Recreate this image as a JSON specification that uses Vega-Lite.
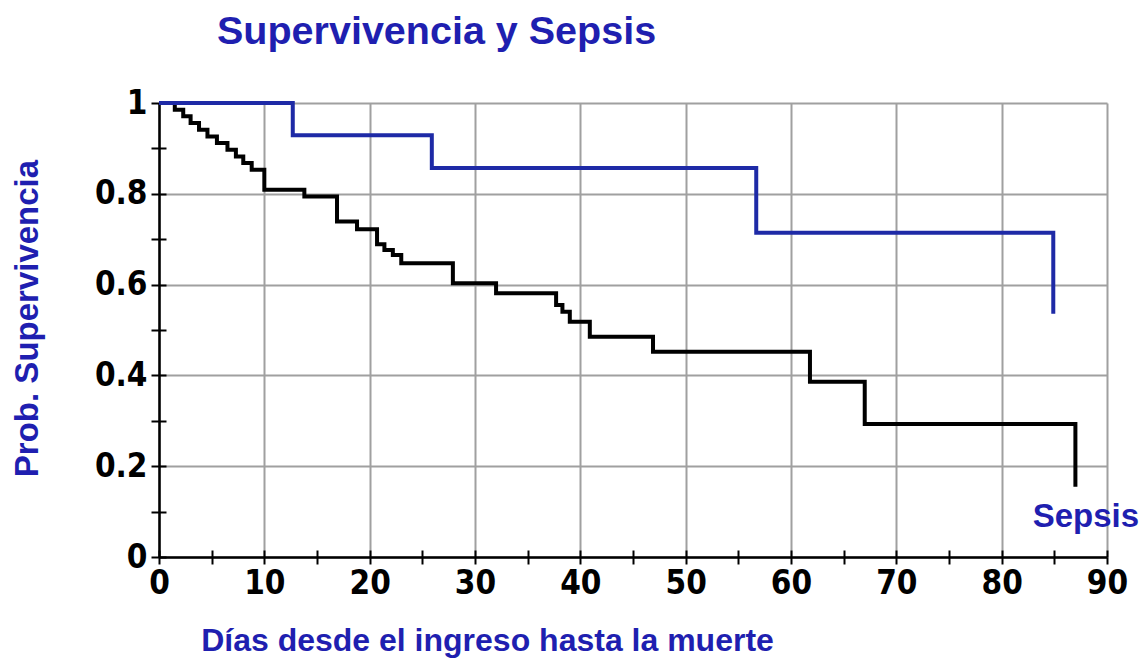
{
  "$schema": "https://vega.github.io/schema/vega-lite/v6.json",
  "autosize": {"type": "none"},
  "padding": {"left": 159, "top": 103, "right": 37, "bottom": 106},
  "width": 948,
  "height": 454,
  "background": "white",
  "config": {"view": {"stroke": null}},
  "title": {"text": "Supervivencia y Sepsis", "anchor": "start", "frame": "group", "dx": 58, "offset": 4, "baseline": "alphabetic", "font": "Liberation Sans", "fontSize": 39.5, "fontWeight": "bold", "color": "#1f1fb0"},
  "datasets": {
    "general": [
      {"dias": 0, "prob": 1},
      {"dias": 1.5, "prob": 0.985},
      {"dias": 2.3, "prob": 0.971},
      {"dias": 3.0, "prob": 0.956},
      {"dias": 3.8, "prob": 0.941},
      {"dias": 4.6, "prob": 0.926},
      {"dias": 5.5, "prob": 0.912},
      {"dias": 6.5, "prob": 0.897},
      {"dias": 7.3, "prob": 0.882},
      {"dias": 8.0, "prob": 0.868},
      {"dias": 8.8, "prob": 0.853},
      {"dias": 10.0, "prob": 0.809},
      {"dias": 13.8, "prob": 0.794},
      {"dias": 16.9, "prob": 0.739},
      {"dias": 18.8, "prob": 0.722},
      {"dias": 20.7, "prob": 0.689},
      {"dias": 21.4, "prob": 0.676},
      {"dias": 22.2, "prob": 0.665},
      {"dias": 23.0, "prob": 0.647},
      {"dias": 27.9, "prob": 0.603},
      {"dias": 32.0, "prob": 0.581},
      {"dias": 37.7, "prob": 0.555},
      {"dias": 38.3, "prob": 0.540},
      {"dias": 39.0, "prob": 0.518},
      {"dias": 40.9, "prob": 0.485},
      {"dias": 46.9, "prob": 0.452},
      {"dias": 61.8, "prob": 0.386},
      {"dias": 67.0, "prob": 0.293},
      {"dias": 87.0, "prob": 0.155}
    ],
    "sepsis": [
      {"dias": 0, "prob": 1},
      {"dias": 12.7, "prob": 0.929},
      {"dias": 25.9, "prob": 0.857},
      {"dias": 56.7, "prob": 0.714},
      {"dias": 84.9, "prob": 0.536}
    ],
    "etiqueta": [
      {"dias": 88.0, "prob": 0.088, "texto": "Sepsis"}
    ]
  },
  "resolve": {"axis": {"x": "independent", "y": "independent"}},
  "layer": [
    {
      "data": {"name": "general"},
      "mark": {"type": "line", "interpolate": "step-after", "color": "black", "strokeWidth": 4, "strokeJoin": "miter", "strokeCap": "butt"},
      "encoding": {
        "x": {"field": "dias", "type": "quantitative", "scale": {"domain": [0, 90], "nice": false, "zero": true},
          "axis": {"orient": "bottom", "values": [0,5,10,15,20,25,30,35,40,45,50,55,60,65,70,75,80,85,90],
            "labelExpr": "datum.value % 10 === 0 ? datum.label : ''",
            "grid": true, "gridColor": "#a0a0a0", "gridWidth": 2,
            "gridOpacity": {"condition": {"test": "datum.value % 10 === 0", "value": 1}, "value": 0},
            "domainColor": "black", "domainWidth": 2.5, "tickColor": "black", "tickWidth": 2, "tickSize": 7,
            "labelFont": "DejaVu Sans Condensed, sans-serif", "labelFontSize": 33, "labelFontWeight": "bold", "labelColor": "black", "labelPadding": 3, "labelFlush": false, "labelOverlap": false,
            "title": "Días desde el ingreso hasta la muerte", "titleFont": "Liberation Sans", "titleFontSize": 32, "titleFontWeight": "bold", "titleColor": "#1f1fb0",
            "titleX": 328, "titleY": 83, "titleAlign": "center", "titleBaseline": "middle"}},
        "y": {"field": "prob", "type": "quantitative", "scale": {"domain": [0, 1], "nice": false},
          "axis": {"orient": "left", "values": [0,0.1,0.2,0.3,0.4,0.5,0.6,0.7,0.8,0.9,1], "format": "~g",
            "labelExpr": "indexof([0,0.2,0.4,0.6,0.8,1], datum.value) >= 0 ? datum.label : ''",
            "grid": true, "gridColor": "#a0a0a0", "gridWidth": 2,
            "gridOpacity": {"condition": {"test": "indexof([0,0.2,0.4,0.6,0.8,1], datum.value) >= 0", "value": 1}, "value": 0},
            "domainColor": "black", "domainWidth": 2.5, "tickColor": "black", "tickWidth": 2, "tickSize": 8,
            "labelFont": "DejaVu Sans Condensed, sans-serif", "labelFontSize": 33, "labelFontWeight": "bold", "labelColor": "black", "labelPadding": 4, "labelFlush": false, "labelOverlap": false,
            "title": "Prob. Supervivencia", "titleFont": "Liberation Sans", "titleFontSize": 33, "titleFontWeight": "bold", "titleColor": "#1f1fb0",
            "titleAngle": 270, "titleX": -132, "titleY": 215, "titleAlign": "center", "titleBaseline": "middle"}}
      }
    },
    {
      "data": {"name": "sepsis"},
      "mark": {"type": "line", "interpolate": "step-after", "color": "#1e2aa6", "strokeWidth": 4, "strokeJoin": "miter", "strokeCap": "butt"},
      "encoding": {
        "x": {"field": "dias", "type": "quantitative",
          "axis": {"orient": "bottom", "values": [0,5,10,15,20,25,30,35,40,45,50,55,60,65,70,75,80,85,90], "labels": false, "grid": false, "domain": false, "title": null, "tickColor": "black", "tickWidth": 2, "tickSize": -7}},
        "y": {"field": "prob", "type": "quantitative",
          "axis": {"orient": "left", "values": [0,0.1,0.2,0.3,0.4,0.5,0.6,0.7,0.8,0.9,1], "labels": false, "grid": false, "domain": false, "title": null, "tickColor": "black", "tickWidth": 2, "tickSize": -7}}
      }
    },
    {
      "data": {"name": "etiqueta"},
      "mark": {"type": "text", "font": "Liberation Sans", "fontSize": 33, "fontWeight": "bold", "color": "#1f1fb0", "align": "center", "baseline": "middle"},
      "encoding": {
        "x": {"field": "dias", "type": "quantitative", "axis": null},
        "y": {"field": "prob", "type": "quantitative", "axis": null},
        "text": {"field": "texto"}
      }
    }
  ]
}
